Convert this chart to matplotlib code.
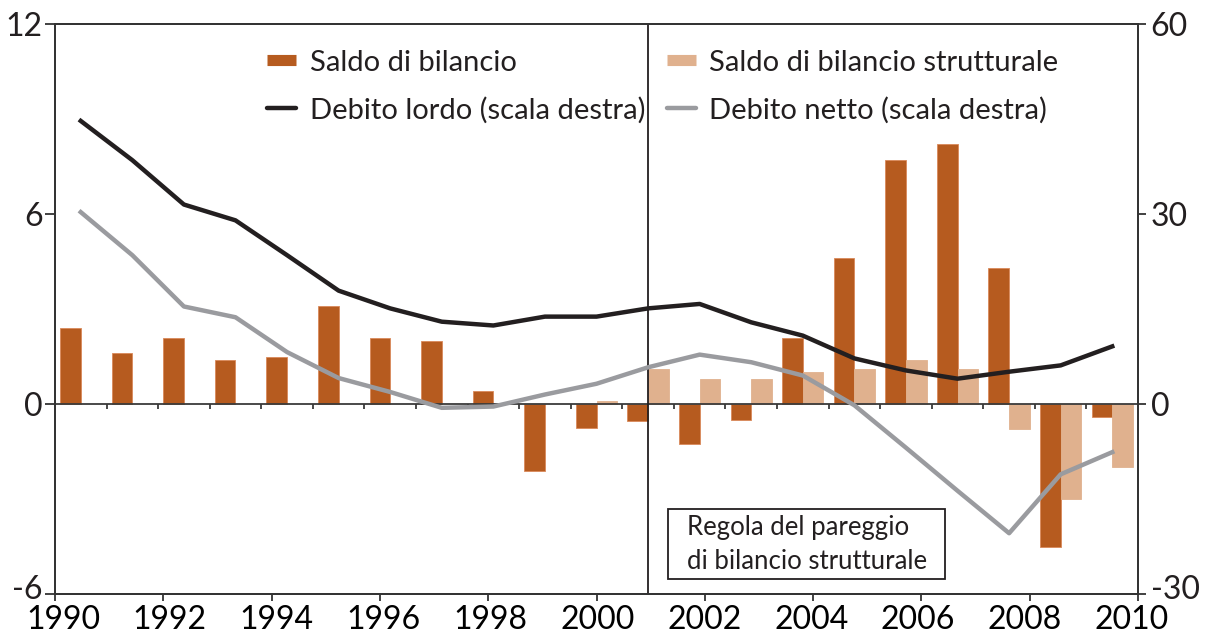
import matplotlib
matplotlib.use("Agg")
import matplotlib.pyplot as plt
from matplotlib.lines import Line2D
from matplotlib.patches import Rectangle
from matplotlib.transforms import ScaledTranslation
import numpy as np

plt.rcParams["font.family"] = ["Lato", "DejaVu Sans"]
plt.rcParams["axes.unicode_minus"] = False

years = list(range(1990, 2011))

# saldo di bilancio (% PIL, scala sinistra)
saldo = [2.4, 1.6, 2.1, 1.4, 1.5, 3.1, 2.1, 2.0, 0.4, -2.1, -0.75,
         -0.55, -1.25, -0.5, 2.1, 4.6, 7.7, 8.2, 4.3, -4.5, -0.4]
# saldo strutturale, disponibile dal 2000
strutt_years = list(range(2000, 2011))
strutt = [0.08, 1.1, 0.8, 0.8, 1.0, 1.1, 1.4, 1.1, -0.8, -3.0, -2.0]

# debito lordo e netto (scala destra)
debito_lordo = [44.7, 38.5, 31.5, 29.0, 23.5, 17.9, 15.1, 13.0, 12.4, 13.8, 13.8,
                15.1, 15.8, 12.9, 10.8, 7.2, 5.3, 4.0, 5.1, 6.1, 9.1]
debito_netto = [30.3, 23.5, 15.4, 13.7, 8.2, 4.1, 1.9, -0.6, -0.4, 1.5, 3.2,
                5.8, 7.8, 6.6, 4.5, -0.2, -6.9, -13.7, -20.4, -11.1, -7.6]

year_ticks = list(range(1990, 2011, 2))

c_dark = "#B65B1F"
c_light = "#E0B18E"
c_black = "#231F20"
c_grey = "#9A9B9F"
c_text = "#231F20"

fig = plt.figure(figsize=(12.08, 6.39), dpi=100)
ax = fig.add_axes([0.0455, 0.0704, 0.8966, 0.8920])
ax2 = ax.twinx()

n = len(years)
idx = np.arange(n)
s_idx = np.array([years.index(y) for y in strutt_years])

ax.bar(idx + 0.1, saldo, width=0.4, align="edge", color=c_dark,
       edgecolor="#D9895A", linewidth=0.6, zorder=2)
ax.bar(s_idx + 0.5, strutt, width=0.4, align="edge", color=c_light,
       edgecolor=c_light, linewidth=0.6, zorder=2)

# asse dello zero con le tacche annuali
ax.axhline(0, color="#3a3a3a", lw=1.3, zorder=3)
ax.vlines(np.arange(1, n), 0, -0.17, color="#3a3a3a", lw=1.3, zorder=3)
# linea verticale al 2001
ax.axvline(years.index(2001) + 0.5, color=c_black, lw=1.3, zorder=3)

ax2.plot(idx + 0.5, debito_lordo, color=c_black, lw=3.2, solid_joinstyle="round")
ax2.plot(idx + 0.5, debito_netto, color=c_grey, lw=3.2, solid_joinstyle="round")

ax.set_xlim(0, n)
ax.set_ylim(-6, 12)
ax2.set_ylim(-30, 60)
ax.set_yticks([-6, 0, 6, 12])
ax2.set_yticks([-30, 0, 30, 60])

# tacche ogni due anni; etichette su una scala leggermente più stretta
ax.set_xticks([(y - 1990) * n / 20 for y in year_ticks])
ax.set_xticklabels([])
ax.set_xticks([0.155 + (y - 1990) * (20.88 - 0.155) / 20 for y in year_ticks],
              [str(y) for y in year_ticks], minor=True)

for a in (ax, ax2):
    for sp in a.spines.values():
        sp.set_color("#333333")
        sp.set_linewidth(1.3)
    a.tick_params(colors="#333333", labelcolor=c_text, labelsize=23,
                  width=1.3, direction="out")
ax.tick_params(axis="y", length=7, pad=2)
ax2.tick_params(axis="y", length=6, pad=3)
ax.tick_params(axis="x", which="major", length=5)
ax.tick_params(axis="x", which="minor", length=0, pad=8, labelsize=23)

# le etichette in basso a sinistra/destra leggermente rialzate
lift = ScaledTranslation(0, 5 / 72, fig.dpi_scale_trans)
for lab in (ax.get_yticklabels()[0], ax2.get_yticklabels()[0]):
    lab.set_transform(lab.get_transform() + lift)

# riquadro di testo
ax.add_patch(Rectangle((0.566, 0.026), 0.2557, 0.123, transform=ax.transAxes,
                       facecolor="white", edgecolor=c_black, lw=1.3, zorder=5))
ax.text(0.5835, 0.0877, "Regola del pareggio\ndi bilancio strutturale",
        transform=ax.transAxes, va="center", ha="left", fontsize=18.5,
        color=c_text, linespacing=1.45, zorder=6)

handles = [
    Line2D([], [], color=c_dark, lw=8, solid_capstyle="butt"),
    Line2D([], [], color=c_black, lw=3.2, solid_capstyle="round"),
    Line2D([], [], color=c_light, lw=8, solid_capstyle="butt"),
    Line2D([], [], color=c_grey, lw=3.2, solid_capstyle="round"),
]
labels = ["Saldo di bilancio", "Debito lordo (scala destra)",
          "Saldo di bilancio strutturale", "Debito netto (scala destra)"]
leg = ax2.legend(handles, labels, ncol=2, loc="upper left",
                 bbox_to_anchor=(0.196, 0.955), frameon=False, fontsize=21,
                 handlelength=1.0, handletextpad=0.45, columnspacing=0.75,
                 labelspacing=0.72, borderaxespad=0, borderpad=0)
for t in leg.get_texts():
    t.set_color(c_text)

fig.savefig("out.png", dpi=100)
